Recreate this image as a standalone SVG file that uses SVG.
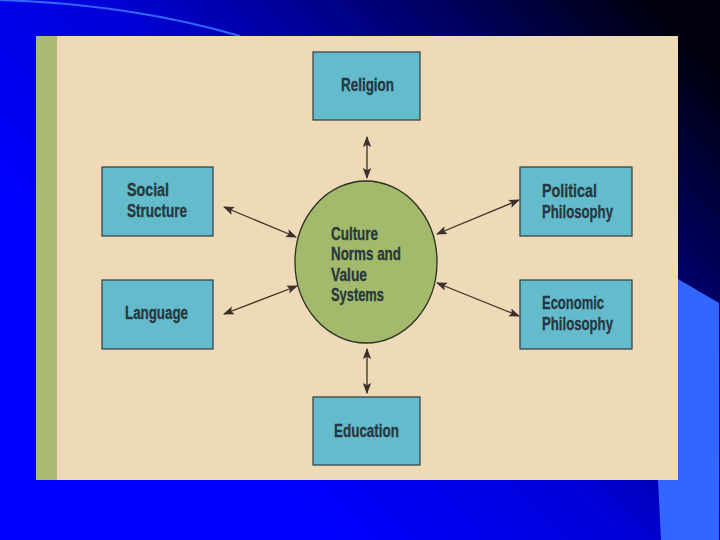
<svg xmlns="http://www.w3.org/2000/svg" width="720" height="540" viewBox="0 0 720 540">
<defs>
<linearGradient id="bg" x1="0.25" y1="0.7" x2="1" y2="0.15">
<stop offset="0" stop-color="#0000FF"/>
<stop offset="0.35" stop-color="#0000D8"/>
<stop offset="0.75" stop-color="#000060"/>
<stop offset="1" stop-color="#000010"/>
</linearGradient>
<marker id="ah" viewBox="0 0 10 10" refX="9" refY="5" markerWidth="11" markerHeight="11" markerUnits="userSpaceOnUse" orient="auto-start-reverse">
<path d="M0,1.2 L10,5 L0,8.8 L2,5 Z" fill="#3a302c"/>
</marker>
<style>
.box{fill:#63BBCC;stroke:#2f3b3c;stroke-width:1.2}
.lbl{font-family:"Liberation Sans",Arial,sans-serif;font-weight:bold;font-size:18px;fill:#27373d;stroke:#27373d;stroke-width:0.3}
.con{stroke:#3a302c;stroke-width:1.3;fill:none;marker-start:url(#ah);marker-end:url(#ah)}
</style>
</defs>
<rect width="720" height="540" fill="url(#bg)"/>
<path d="M0,0 Q130,4 240,36" fill="none" stroke="#3366FF" stroke-width="2"/>
<path d="M678,279 L719,303 L719,540 L661,540 L658,480 L678,480 Z" fill="#3366FF"/>
<rect x="36" y="36" width="642" height="444" fill="#EFDAB8"/>
<rect x="36" y="36" width="21" height="444" fill="#A9BB74"/>
<g id="connectors">
<line class="con" x1="367" y1="137" x2="367" y2="178"/>
<line class="con" x1="367" y1="349" x2="367" y2="393"/>
<line class="con" x1="224" y1="207" x2="296" y2="237"/>
<line class="con" x1="224" y1="314" x2="297" y2="286"/>
<line class="con" x1="437" y1="234" x2="519" y2="200"/>
<line class="con" x1="437" y1="283" x2="519" y2="316"/>
</g>
<g id="center">
<ellipse cx="366" cy="262" rx="71" ry="81" fill="#A3BA6C" stroke="#2b2f22" stroke-width="1.3"/>
<text class="lbl" x="331" y="240" textLength="47" lengthAdjust="spacingAndGlyphs">Culture</text>
<text class="lbl" x="331" y="260" textLength="70" lengthAdjust="spacingAndGlyphs">Norms and</text>
<text class="lbl" x="331" y="281" textLength="36" lengthAdjust="spacingAndGlyphs">Value</text>
<text class="lbl" x="331" y="301" textLength="53" lengthAdjust="spacingAndGlyphs">Systems</text>
</g>
<g id="religion">
<rect class="box" x="313" y="52" width="107" height="68"/>
<text class="lbl" x="341" y="91" textLength="53" lengthAdjust="spacingAndGlyphs">Religion</text>
</g>
<g id="education">
<rect class="box" x="313" y="397" width="107" height="68"/>
<text class="lbl" x="334" y="437" textLength="65" lengthAdjust="spacingAndGlyphs">Education</text>
</g>
<g id="social">
<rect class="box" x="102" y="167" width="111" height="69"/>
<text class="lbl" x="127" y="196" textLength="42" lengthAdjust="spacingAndGlyphs">Social</text>
<text class="lbl" x="127" y="217" textLength="60" lengthAdjust="spacingAndGlyphs">Structure</text>
</g>
<g id="language">
<rect class="box" x="102" y="280" width="111" height="69"/>
<text class="lbl" x="125" y="319" textLength="63" lengthAdjust="spacingAndGlyphs">Language</text>
</g>
<g id="political">
<rect class="box" x="520" y="167" width="112" height="69"/>
<text class="lbl" x="542" y="197" textLength="55" lengthAdjust="spacingAndGlyphs">Political</text>
<text class="lbl" x="542" y="218" textLength="71" lengthAdjust="spacingAndGlyphs">Philosophy</text>
</g>
<g id="economic">
<rect class="box" x="520" y="280" width="112" height="69"/>
<text class="lbl" x="542" y="309" textLength="62" lengthAdjust="spacingAndGlyphs">Economic</text>
<text class="lbl" x="542" y="330" textLength="71" lengthAdjust="spacingAndGlyphs">Philosophy</text>
</g>
</svg>
